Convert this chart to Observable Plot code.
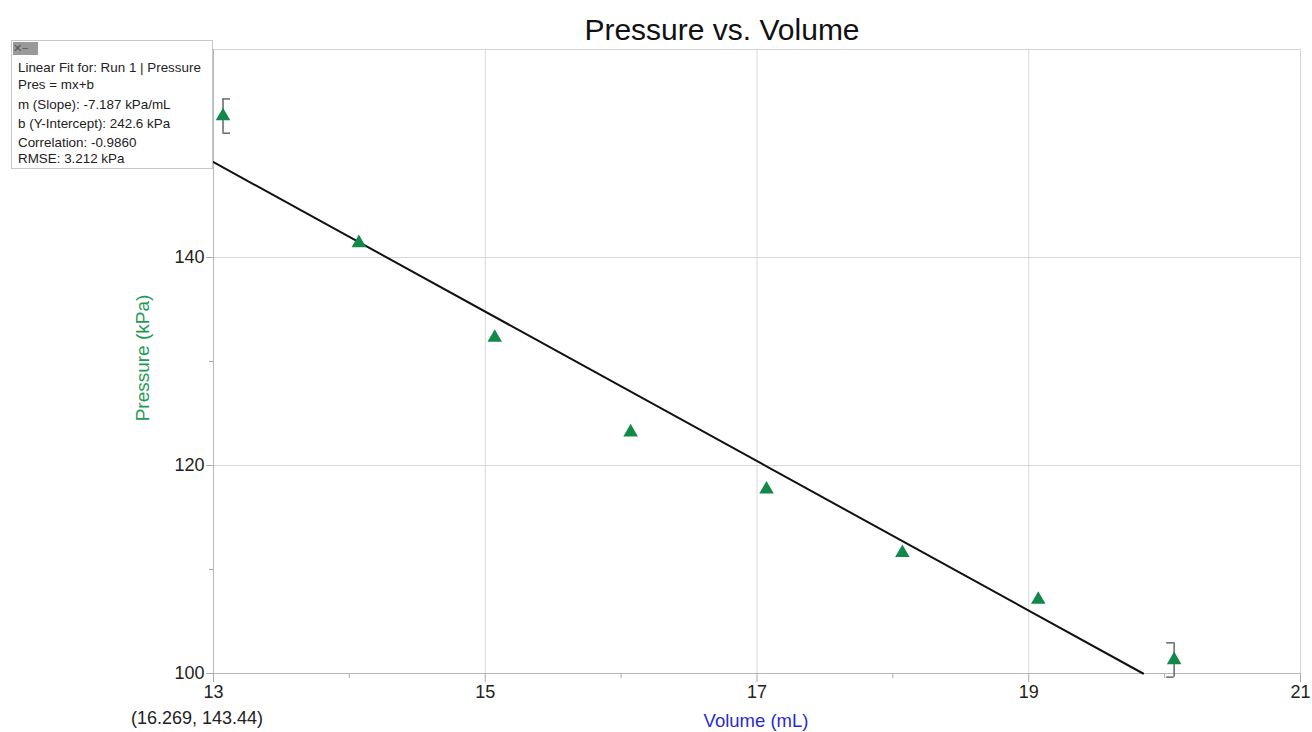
<!DOCTYPE html>
<html>
<head>
<meta charset="utf-8">
<script src="https://cdn.jsdelivr.net/npm/d3@7"></script>
<script src="https://cdn.jsdelivr.net/npm/@observablehq/plot@0.6"></script>
<style>
  html, body { margin: 0; padding: 0; background: #fff; }
  body { width: 1312px; height: 732px; position: relative; overflow: hidden; font-family: "Liberation Sans", Arial, sans-serif; }
  #chart { position: absolute; left: 0; top: 0; }
  .abs { position: absolute; white-space: nowrap; }
  #title { left: 722px; top: 30px; transform: translate(-50%, -50%); font-size: 30px; color: #111; }
  #ylab { left: 143px; top: 358px; transform: translate(-50%, -50%) rotate(-90deg); font-size: 19px; color: #1e9a52; }
  #xlab { left: 756px; top: 721px; transform: translate(-50%, -50%); font-size: 18.5px; color: #2a2ad2; }
  #coord { left: 197px; top: 718px; transform: translate(-50%, -50%); font-size: 18px; color: #222; }
  #fitbox { left: 11px; top: 40px; width: 200px; height: 127px; border: 1px solid #c8c8c8; background: #fff; }
  #fitbox .icon { position: absolute; left: 1px; top: 1px; width: 25px; height: 13px; background: #9a9a9a; font-size: 11px; line-height: 13px; color: #555; }
  #fitbox .ln { position: absolute; left: 6px; font-size: 13.4px; color: #222; transform: translateY(-50%); white-space: nowrap; }
</style>
</head>
<body>
<div id="chart"></div>
<div id="title" class="abs"></div>
<div id="ylab" class="abs"></div>
<div id="xlab" class="abs"></div>
<div id="coord" class="abs"></div>
<div id="fitbox" class="abs"></div>
<script>
// ---- data ----
const chartTitle = "Pressure vs. Volume";
const xLabel = "Volume (mL)";
const yLabel = "Pressure (kPa)";
const volume = [13.07, 14.07, 15.07, 16.07, 17.07, 18.07, 19.07, 20.07];
const pressure = [153.6, 141.4, 132.3, 123.2, 117.7, 111.6, 107.1, 101.3];
const xTicks = [13, 15, 17, 19, 21];
const xMinorTicks = [14, 16, 18, 20];
const yTicks = [100, 120, 140];
const yMinorTicks = [110, 130, 150];
const fitSlope = -7.187;
const fitIntercept = 242.6;
const fitCorrelation = -0.9860;
const fitRmse = 3.212;
const fitRun = "Run 1";
const fitColumn = "Pressure";
const bracketIndex = [0, 7];
const bracketDir = [1, -1];
const bracketHalf = 1.65;
const bracketWidth = 0.055;
const cursorReadout = "(16.269, 143.44)";

// ---- derived tables ----
const points = volume.map((v, i) => ({x: v, y: pressure[i]}));
const xStart = 13;
const xEnd = (100 - fitIntercept) / fitSlope;
const fitLine = [xStart, xEnd].map(x => ({x, y: fitSlope * x + fitIntercept}));
const brackets = bracketIndex.map((idx, k) => ({x: volume[idx], y: pressure[idx], d: bracketDir[k]}));
const bracketEnds = brackets.flatMap(b => [
  {x1: b.x, x2: b.x + b.d * bracketWidth, y: b.y + bracketHalf},
  {x1: b.x, x2: b.x + b.d * bracketWidth, y: b.y - bracketHalf}
]);

const green = "#12894a";
const fmt = d3.format("d");
const plot = Plot.plot({
  width: 1312,
  height: 732,
  marginLeft: 213,
  marginRight: 12,
  marginTop: 49,
  marginBottom: 59,
  style: {fontFamily: "'Liberation Sans', Arial, sans-serif", fontSize: "18px", color: "#222", background: "transparent"},
  x: {domain: [13, 21]},
  y: {domain: [100, 160]},
  marks: [
    Plot.gridX(xTicks, {stroke: "#d8d8d8", strokeOpacity: 1}),
    Plot.gridY(yTicks, {stroke: "#d8d8d8", strokeOpacity: 1}),
    Plot.frame({stroke: "#d4d4d4"}),
    Plot.ruleX([13], {stroke: "#b8b8b8"}),
    Plot.ruleY([100], {stroke: "#b8b8b8"}),
    Plot.axisX(xTicks, {tickSize: 9, tickPadding: 3, stroke: "#aaa", fill: "#222", label: null, fontSize: 18, tickFormat: fmt}),
    Plot.axisX(xMinorTicks, {tickSize: 5, text: null, stroke: "#aaa", label: null}),
    Plot.axisY(yTicks, {tickSize: 7, tickPadding: 2, stroke: "#aaa", fill: "#222", label: null, fontSize: 18, tickFormat: fmt}),
    Plot.axisY(yMinorTicks, {tickSize: 4, text: null, stroke: "#aaa", label: null}),
    Plot.line(fitLine, {x: "x", y: "y", stroke: "#111", strokeWidth: 2}),
    Plot.ruleX(brackets, {x: "x", y1: d => d.y - bracketHalf, y2: d => d.y + bracketHalf, stroke: "#666", strokeWidth: 1.5}),
    Plot.ruleY(bracketEnds, {x1: "x1", x2: "x2", y: "y", stroke: "#666", strokeWidth: 1.5}),
    Plot.dot(points, {x: "x", y: "y", symbol: "triangle", r: 5.4, fill: green, stroke: "none"})
  ]
});
document.getElementById("chart").appendChild(plot);

document.getElementById("title").textContent = chartTitle;
document.getElementById("ylab").textContent = yLabel;
document.getElementById("xlab").textContent = xLabel;
document.getElementById("coord").textContent = cursorReadout;

const box = document.getElementById("fitbox");
const icon = document.createElement("div");
icon.className = "icon";
icon.textContent = "\u2715\u2212";
box.appendChild(icon);
const lines = [
  [`Linear Fit for: ${fitRun} | ${fitColumn}`, 26],
  ["Pres = mx+b", 43],
  [`m (Slope): ${fitSlope.toFixed(3)} kPa/mL`, 63],
  [`b (Y-Intercept): ${fitIntercept.toFixed(1)} kPa`, 82],
  [`Correlation: ${fitCorrelation.toFixed(4)}`, 101],
  [`RMSE: ${fitRmse.toFixed(3)} kPa`, 117]
];
for (const [t, y] of lines) {
  const d = document.createElement("div");
  d.className = "ln";
  d.style.top = y + "px";
  d.textContent = t;
  box.appendChild(d);
}
</script>
</body>
</html>
